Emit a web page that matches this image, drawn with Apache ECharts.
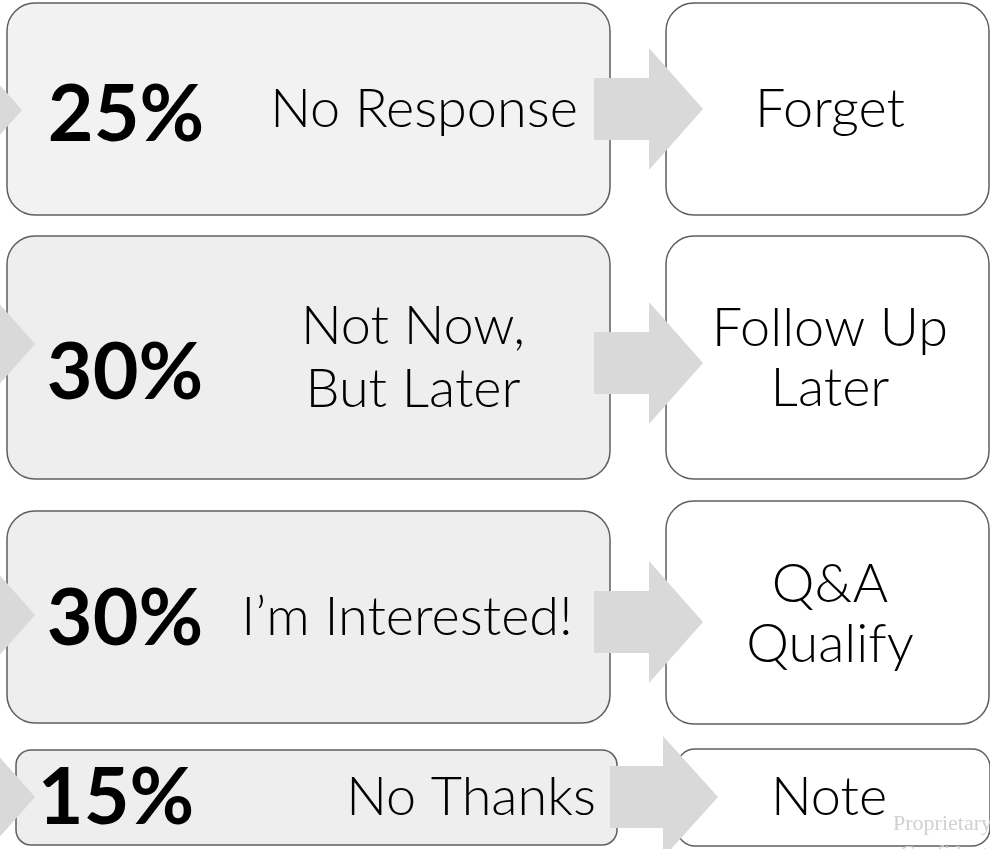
<!DOCTYPE html>
<html>
<head>
<meta charset="utf-8">
<script src="https://cdn.jsdelivr.net/npm/echarts@6/dist/echarts.min.js"></script>
<style>
  html, body { margin: 0; padding: 0; background: #fff; }
  #chart { width: 990px; height: 849px; }
</style>
</head>
<body>
<div id="chart"></div>
<script>
  const percents = ['25%', '30%', '30%', '15%'];
  const responses = ['No Response', 'Not Now,\nBut Later', 'I\u2019m Interested!', 'No Thanks'];
  const actions = ['Forget', 'Follow Up\nLater', 'Q&A\nQualify', 'Note'];

  // row layout, in axis units (x 0..990, y 0..849 top-down)
  const layout = [
    { box: [7, 3, 603, 212], r: 28, fill: '#f2f2f2', next: [666, 3, 323, 212], nr: 28,
      arrowY: 109, shaft: [594, 649], tip: 703, inTip: [22, 110], pct: [126, 116], resp: [424, 110], act: [830, 110] },
    { box: [7, 236, 603, 243], r: 28, fill: '#eeeeee', next: [666, 236, 323, 243], nr: 28,
      arrowY: 363, shaft: [594, 649], tip: 703, inTip: [35, 344], pct: [125, 374], resp: [413, 358], act: [830, 359] },
    { box: [7, 511, 603, 212], r: 28, fill: '#eeeeee', next: [666, 501, 323, 223], nr: 28,
      arrowY: 622, shaft: [594, 649], tip: 703, inTip: [35, 615], pct: [125, 620], resp: [407, 618], act: [830, 615] },
    { box: [16, 750, 601, 95], r: 15, fill: '#eeeeee', next: [677, 749, 313, 97], nr: 18,
      arrowY: 797, shaft: [610, 663], tip: 718, inTip: [35, 797], pct: [116, 799], resp: [471, 798], act: [829, 798] }
  ];

  const chart = echarts.init(document.getElementById('chart'));

  function renderRow(params, api) {
    const i = params.dataIndex;
    const L = layout[i];
    const p = (x, y) => api.coord([x, y]);
    const rect = (b, r, fill) => {
      const a = p(b[0], b[1]);
      const c = p(b[0] + b[2], b[1] + b[3]);
      return {
        type: 'rect',
        shape: { x: a[0], y: a[1], width: c[0] - a[0], height: c[1] - a[1], r: r },
        style: { fill: fill, stroke: '#5f5f5f', lineWidth: 1.5 }
      };
    };
    const arrow = (x0, xh, xt, y) => ({
      type: 'polygon',
      shape: {
        points: [[x0, y - 31], [xh, y - 31], [xh, y - 61], [xt, y], [xh, y + 61], [xh, y + 31], [x0, y + 31]]
          .map(q => p(q[0], q[1]))
      },
      style: { fill: '#d9d9d9' }
    });
    const text = (str, pos, font, lh) => {
      const c = p(pos[0], pos[1]);
      return {
        type: 'text',
        style: {
          text: str, x: c[0], y: c[1], fill: '#000', font: font,
          align: 'center', verticalAlign: 'middle', lineHeight: lh
        }
      };
    };
    const light = '300 54px Lato';
    return {
      type: 'group',
      children: [
        rect(L.box, L.r, L.fill),
        rect(L.next, L.nr, '#ffffff'),
        arrow(-80, L.inTip[0] - 54, L.inTip[0], L.inTip[1]),
        arrow(L.shaft[0], L.shaft[1], L.tip, L.arrowY),
        text(percents[i], L.pct, 'bold 79px Lato', 80),
        text(responses[i], L.resp, light, 63),
        text(actions[i], L.act, light, 60)
      ]
    };
  }

  chart.setOption({
    animation: false,
    grid: { left: 0, right: 0, top: 0, bottom: 0 },
    xAxis: { type: 'value', min: 0, max: 990, show: false },
    yAxis: { type: 'value', min: 0, max: 849, inverse: true, show: false },
    graphic: [
      { type: 'text', left: 893, top: 813, z: 10,
        style: { text: 'Proprietary', fill: '#d0d0d0', font: '22px "Liberation Serif"' } },
      { type: 'text', left: 900, top: 843, z: 10,
        style: { text: 'Confidential', fill: '#d0d0d0', font: '22px "Liberation Serif"' } }
    ],
    series: [{
      type: 'custom',
      renderItem: renderRow,
      data: percents.map((v, i) => [i])
    }]
  });
</script>
</body>
</html>
